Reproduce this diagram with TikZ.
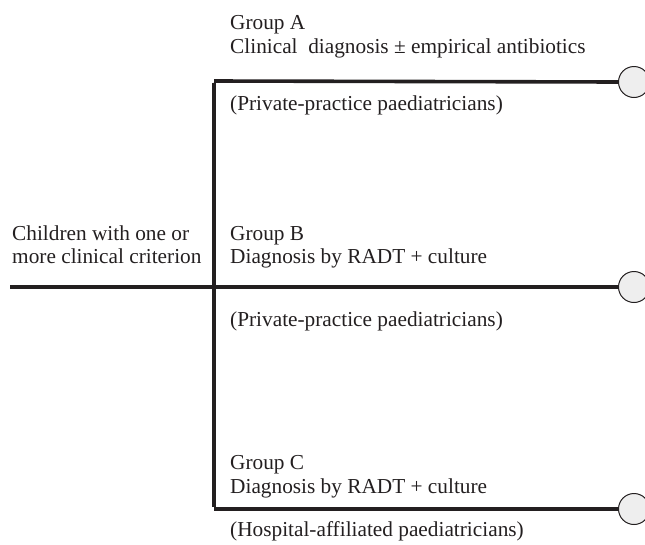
\documentclass[tikz,border=0pt]{standalone}
\usepackage{fontspec}
\setmainfont{Liberation Serif}
\definecolor{ink}{HTML}{231F20}
\definecolor{dotfill}{HTML}{EEEEEE}
\begin{document}
\begin{tikzpicture}[x=1pt,y=-1pt,
  lbl/.style={anchor=base west,inner sep=0pt,font=\fontsize{21.3}{24}\selectfont,text=ink},
  branch/.style={draw=ink,line width=3.6pt},
  endpt/.style={circle,draw=ink,line width=1pt,fill=dotfill,minimum size=31pt,inner sep=0pt}]
\useasboundingbox (0,0) rectangle (645,544);
% text
\node[lbl] (gA) at (230,29) {Group A};
\node[lbl] (dA) at (230,53) {Clinical\ \ diagnosis ± empirical antibiotics};
\node[lbl] (pA) at (230,110) {(Private-practice paediatricians)};
\node[lbl] (gB) at (230,240) {Group B};
\node[lbl] (dB) at (230,263) {Diagnosis by RADT + culture};
\node[lbl] (pB) at (230,326) {(Private-practice paediatricians)};
\node[lbl] (gC) at (230,469) {Group C};
\node[lbl] (dC) at (230,493) {Diagnosis by RADT + culture};
\node[lbl] (pC) at (230,536) {(Hospital-affiliated paediatricians)};
\node[lbl] (ch1) at (12,240) {Children with one or};
\node[lbl] (ch2) at (12,263) {more clinical criterion};
% structure
\coordinate (start) at (10,287);
\coordinate (jA) at (214,81);
\coordinate (jB) at (214,287);
\coordinate (jC) at (214,509);
\node[endpt] (eA) at (634,82) {};
\node[endpt] (eB) at (634,287) {};
\node[endpt] (eC) at (634,509) {};
\draw[branch] ([yshift=-1.8pt]jA) -- ([yshift=1.8pt]jC);
\draw[branch] (start) -- (jB) -- (eB.west);
\draw[branch] (jA) -- (eA.west);
\draw[branch] (jC) -- (eC.west);
\end{tikzpicture}
\end{document}
